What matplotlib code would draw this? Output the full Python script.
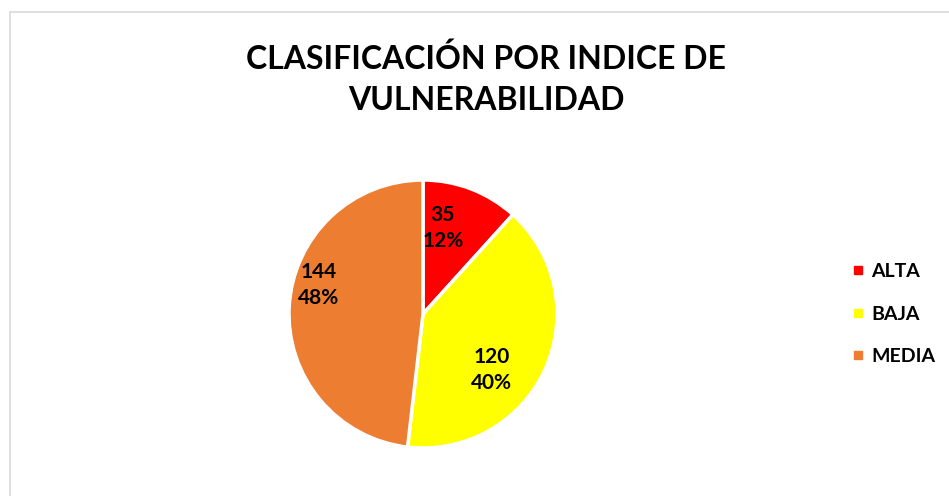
import numpy as np
import matplotlib.pyplot as plt
from matplotlib.patches import Rectangle
from matplotlib.lines import Line2D

plt.rcParams['font.family'] = ['Lato', 'DejaVu Sans']

# ===== datos =====
categorias = ["ALTA", "BAJA", "MEDIA"]
valores = [35, 120, 144]
colores = ["#ff0000", "#ffff00", "#ed7d31"]

# posiciones de las etiquetas (ángulo en grados, fracción del radio)
etq_ang = [77, -39.5, 164.6]
etq_dist = [0.66, 0.66, 0.81]

fig = plt.figure(figsize=(9.49, 4.96), dpi=100)

# marco gris claro del gráfico
fig.patches.append(Rectangle((9.5 / 949, -0.1), 1.2, 1 - 11.5 / 496 + 0.1,
                             transform=fig.transFigure, fill=False,
                             edgecolor="#d9d9d9", linewidth=1.2))

fig.text(486 / 949, 1 - 79 / 496, "CLASIFICACIÓN POR INDICE DE\nVULNERABILIDAD",
         ha="center", va="center", fontsize=23, fontweight="bold",
         linespacing=1.5)

ax = fig.add_axes([(423 - 134) / 949, (496 - 314 - 134) / 496, 268 / 949, 268 / 496])
wedges, _ = ax.pie(valores, colors=colores, startangle=90, counterclock=False,
                   radius=1, wedgeprops=dict(edgecolor="white", linewidth=2.5))
ax.set_xlim(-1, 1)
ax.set_ylim(-1, 1)

total = sum(valores)
for v, a, d in zip(valores, etq_ang, etq_dist):
    x = d * np.cos(np.radians(a))
    y = d * np.sin(np.radians(a))
    ax.text(x, y, f"{v}\n{v / total * 100:.0f}%", ha="center", va="center",
            fontsize=15, fontweight="bold", linespacing=1.4)

marcas = [Line2D([], [], linestyle="none", marker="s", markersize=6,
                 markerfacecolor=c, markeredgecolor=c) for c in colores]
fig.legend(marcas, categorias, loc="center left",
           bbox_to_anchor=(851 / 949, 1 - 314 / 496), frameon=False,
           borderpad=0, borderaxespad=0,
           prop=dict(size=14, weight="bold"), handlelength=0.7,
           handletextpad=0.35, labelspacing=1.3)

fig.savefig("out.png", dpi=100)
